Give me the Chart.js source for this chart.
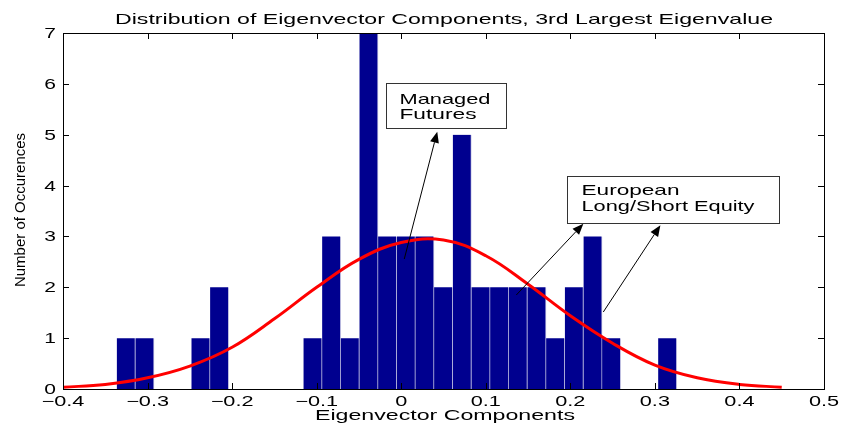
<!DOCTYPE html>
<html>
<head>
<meta charset="utf-8">
<script src="https://cdn.jsdelivr.net/npm/chart.js@4"></script>
<style>
  html, body { margin: 0; padding: 0; background: #ffffff; }
  #wrap { width: 841px; height: 430px; position: relative; }
</style>
</head>
<body>
<div id="wrap"><canvas id="c" width="841" height="430"></canvas></div>
<script>
// ---- data ----
const binCenters = [-0.3254, -0.3033, -0.2371, -0.2150, -0.1046, -0.0825, -0.0605, -0.0384,
                    -0.0163, 0.0058, 0.0278, 0.0499, 0.0720, 0.0941, 0.1162, 0.1382,
                    0.1603, 0.1824, 0.2045, 0.2266, 0.2486, 0.3149];
const counts     = [1, 1, 1, 2, 1, 3, 1, 7,
                    3, 3, 3, 2, 5, 2, 2, 2,
                    2, 1, 2, 3, 1, 1];
const curveX = [-0.40, -0.35, -0.30, -0.25, -0.20, -0.15, -0.10, -0.05, 0.00,
                 0.05, 0.10, 0.15, 0.20, 0.25, 0.30, 0.35, 0.40, 0.45];
const curveY = [0.035, 0.09, 0.22, 0.45, 0.82, 1.38, 2.00, 2.55, 2.88,
                2.93, 2.62, 2.06, 1.44, 0.90, 0.47, 0.22, 0.09, 0.035];
const xTickValues = [-0.4, -0.3, -0.2, -0.1, 0, 0.1, 0.2, 0.3, 0.4, 0.5];
const xTickLabels = ['\u22120.4', '\u22120.3', '\u22120.2', '\u22120.1', '0', '0.1', '0.2', '0.3', '0.4', '0.5'];
const yTickValues = [0, 1, 2, 3, 4, 5, 6, 7];
const yTickLabels = ['0', '1', '2', '3', '4', '5', '6', '7'];
const titleText = 'Distribution of Eigenvector Components, 3rd Largest Eigenvalue';
const xAxisTitle = 'Eigenvector Components';
const yAxisTitle = 'Number of Occurences';
const noteManaged = ['Managed', 'Futures'];
const noteEuropean = ['European', 'Long/Short Equity'];

// ---- drawing helpers ----
const FONT = '"Liberation Sans", Arial, Helvetica, sans-serif';
function stretchedText(ctx, text, x, y, opts) {
  ctx.save();
  ctx.font = opts.font;
  ctx.fillStyle = '#000';
  ctx.textBaseline = 'alphabetic';
  const w0 = ctx.measureText(text).width;
  const sx = opts.width ? opts.width / w0 : (opts.sx || 1);
  const w = w0 * sx;
  let left = x;
  if (opts.align === 'center') left = x - w / 2;
  else if (opts.align === 'right') left = x - w;
  ctx.translate(left, y);
  ctx.scale(sx, 1);
  ctx.textAlign = 'left';
  ctx.fillText(text, 0, 0);
  ctx.restore();
}
function arrow(ctx, x1, y1, x2, y2) {
  ctx.save();
  ctx.strokeStyle = '#000';
  ctx.fillStyle = '#000';
  ctx.lineWidth = 1;
  const ang = Math.atan2(y2 - y1, x2 - x1);
  const L = 11, W = 4.5;
  const bx = x2 - L * Math.cos(ang), by = y2 - L * Math.sin(ang);
  ctx.beginPath();
  ctx.moveTo(x1, y1);
  ctx.lineTo(bx, by);
  ctx.stroke();
  ctx.beginPath();
  ctx.moveTo(x2, y2);
  ctx.lineTo(bx + W * Math.sin(ang), by - W * Math.cos(ang));
  ctx.lineTo(bx - W * Math.sin(ang), by + W * Math.cos(ang));
  ctx.closePath();
  ctx.fill();
  ctx.restore();
}

const decorPlugin = {
  id: 'decor',
  afterDatasetsDraw(chart) {
    const ctx = chart.ctx;
    const xs = chart.scales.x, ys = chart.scales.y;
    const a = chart.chartArea;
    const px = v => xs.getPixelForValue(v);
    const py = v => ys.getPixelForValue(v);

    // axes box
    ctx.save();
    ctx.strokeStyle = '#000';
    ctx.lineWidth = 1;
    ctx.strokeRect(Math.round(a.left) + 0.5, Math.round(a.top) + 0.5,
                   Math.round(a.right - a.left), Math.round(a.bottom - a.top));
    // ticks (inward, on all four sides)
    const tl = 6;
    ctx.beginPath();
    xTickValues.forEach(v => {
      const x = Math.round(px(v)) + 0.5;
      ctx.moveTo(x, a.bottom); ctx.lineTo(x, a.bottom - tl);
      ctx.moveTo(x, a.top); ctx.lineTo(x, a.top + tl);
    });
    yTickValues.forEach(v => {
      const y = Math.round(py(v)) + 0.5;
      ctx.moveTo(a.left, y); ctx.lineTo(a.left + tl, y);
      ctx.moveTo(a.right, y); ctx.lineTo(a.right - tl, y);
    });
    ctx.stroke();
    ctx.restore();

    // tick labels
    xTickValues.forEach((v, i) => {
      stretchedText(ctx, xTickLabels[i], px(v), 406, { font: '14px ' + FONT, sx: 1.55, align: 'center' });
    });
    yTickValues.forEach((v, i) => {
      stretchedText(ctx, yTickLabels[i], 56, py(v) + 5, { font: '14px ' + FONT, sx: 1.5, align: 'right' });
    });

    // titles
    stretchedText(ctx, titleText, 444, 24, { font: '15px ' + FONT, width: 658, align: 'center' });
    stretchedText(ctx, xAxisTitle, 445, 420, { font: '15px ' + FONT, width: 260, align: 'center' });
    ctx.save();
    ctx.translate(25, 210);
    ctx.rotate(-Math.PI / 2);
    ctx.font = '15px ' + FONT;
    ctx.fillStyle = '#000';
    ctx.textAlign = 'center';
    ctx.textBaseline = 'alphabetic';
    ctx.fillText(yAxisTitle, 0, 0);
    ctx.restore();

    // annotation boxes
    function box(x0, y0, x1, y1) {
      const l = Math.round(px(x0)) + 0.5, r = Math.round(px(x1)) + 0.5;
      const t = Math.round(py(y0)) + 0.5, b = Math.round(py(y1)) + 0.5;
      ctx.save();
      ctx.fillStyle = '#fff';
      ctx.fillRect(l, t, r - l, b - t);
      ctx.strokeStyle = '#333';
      ctx.lineWidth = 1;
      ctx.strokeRect(l, t, r - l, b - t);
      ctx.restore();
      return { l, t, r, b };
    }
    const b1 = box(-0.0178, 6.017, 0.1243, 5.132);
    stretchedText(ctx, noteManaged[0], b1.l + 13, b1.t + 20, { font: '15px ' + FONT, width: 91 });
    stretchedText(ctx, noteManaged[1], b1.l + 13, b1.t + 35, { font: '15px ' + FONT, width: 77 });
    const b2 = box(0.1964, 4.188, 0.4473, 3.264);
    stretchedText(ctx, noteEuropean[0], b2.l + 14, b2.t + 18, { font: '15px ' + FONT, width: 98 });
    stretchedText(ctx, noteEuropean[1], b2.l + 14, b2.t + 34, { font: '15px ' + FONT, width: 173 });

    // arrows
    arrow(ctx, px(0.0036), py(2.556), px(0.0426), py(5.06));
    arrow(ctx, px(0.1361), py(1.848), px(0.2154), py(3.25));
    arrow(ctx, px(0.2390), py(1.514), px(0.3065), py(3.22));
  }
};

new Chart(document.getElementById('c'), {
  type: 'bar',
  data: {
    datasets: [
      {
        type: 'line',
        data: curveX.map((x, i) => ({ x: x, y: curveY[i] })),
        borderColor: '#ff0000',
        borderWidth: 3,
        pointRadius: 0,
        tension: 0.4,
        fill: false,
        order: 1
      },
      {
        type: 'bar',
        data: binCenters.map((x, i) => ({ x: x, y: counts[i] })),
        backgroundColor: '#00008f',
        borderColor: '#c9c9e6',
        borderWidth: { left: 0, right: 1, top: 0, bottom: 0 },
        borderSkipped: false,
        barPercentage: 1.0,
        categoryPercentage: 1.0,
        order: 2
      }
    ]
  },
  plugins: [decorPlugin],
  options: {
    responsive: false,
    animation: false,
    events: [],
    layout: { padding: { left: 0, right: 17, top: 33, bottom: 0 } },
    plugins: { legend: { display: false }, tooltip: { enabled: false }, title: { display: false } },
    scales: {
      x: {
        type: 'linear',
        min: -0.4, max: 0.5,
        offset: false,
        ticks: { display: false, stepSize: 0.1 },
        grid: { display: false, offset: false },
        border: { display: false },
        afterFit(s) { s.height = 41; }
      },
      y: {
        type: 'linear',
        min: 0, max: 7,
        ticks: { display: false, stepSize: 1 },
        grid: { display: false },
        border: { display: false },
        afterFit(s) { s.width = 63; }
      }
    }
  }
});
</script>
</body>
</html>
